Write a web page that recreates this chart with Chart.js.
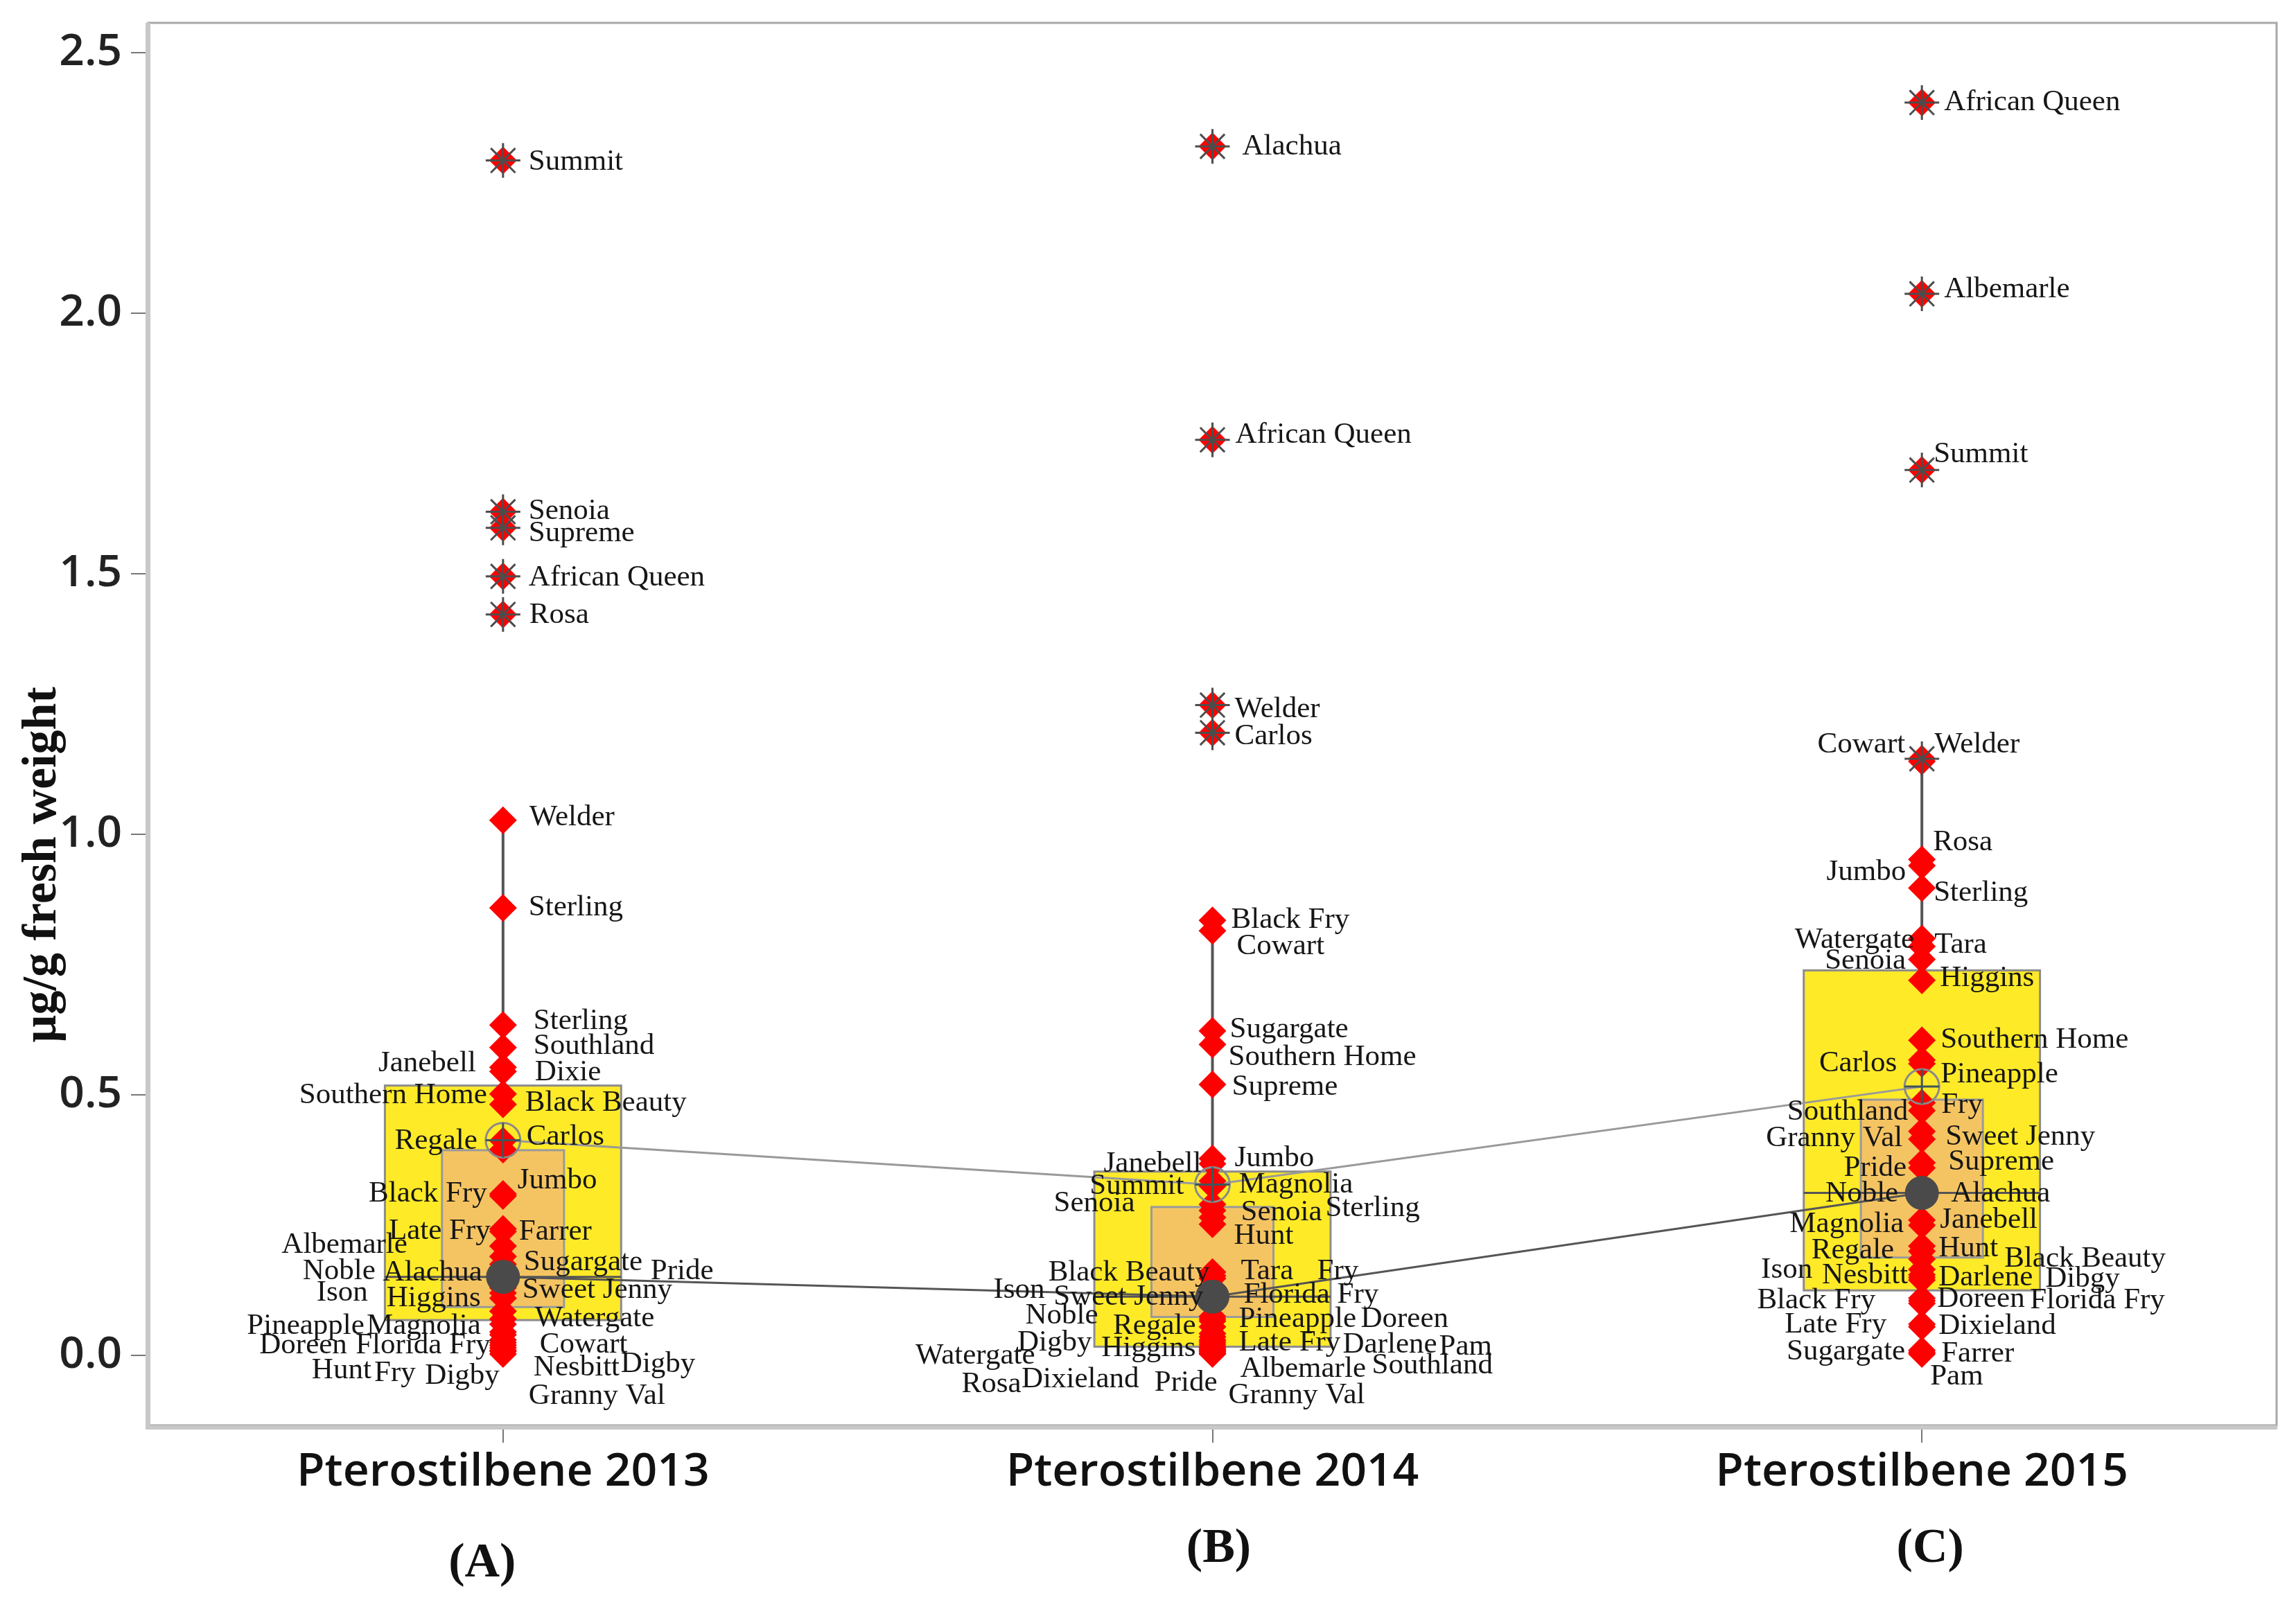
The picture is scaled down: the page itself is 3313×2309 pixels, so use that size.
<!DOCTYPE html>
<html>
<head>
<meta charset="utf-8">
<script src="https://cdn.jsdelivr.net/npm/chart.js@4"></script>
<style>
html,body{margin:0;padding:0;background:#ffffff;}
#wrap{width:3313px;height:2309px;position:relative;}
canvas{display:block;}
</style>
</head>
<body>
<div id="wrap"><canvas id="c" width="3313" height="2309"></canvas></div>
<script>
// ---------------- DATA ----------------
const categories = ['Pterostilbene 2013', 'Pterostilbene 2014', 'Pterostilbene 2015'];
const panelLetters = ['(A)', '(B)', '(C)'];
const yTicks = [0, 0.5, 1.0, 1.5, 2.0, 2.5];
const yTitle = 'µg/g fresh weight';

const names2013 = ['Summit','Senoia','Supreme','African Queen','Rosa','Welder','Sterling','Sterling','Southland','Janebell','Dixie','Southern Home','Black Beauty','Carlos','Regale','Jumbo','Black Fry','Late Fry','Farrer','Albemarle','Sugargate','Pride','Noble','Alachua','Sweet Jenny','Ison','Higgins','Watergate','Pineapple','Magnolia','Doreen','Florida Fry','Cowart','Nesbitt','Digby','Hunt','Fry','Digby','Granny Val'];
const values2013 = [2.293,1.619,1.588,1.495,1.422,1.027,0.859,0.634,0.591,0.553,0.545,0.502,0.482,0.412,0.395,0.306,0.310,0.243,0.238,0.210,0.190,0.175,0.165,0.160,0.130,0.120,0.110,0.085,0.070,0.060,0.045,0.040,0.030,0.025,0.020,0.015,0.010,0.008,0.003];

const names2014 = ['Alachua','African Queen','Welder','Carlos','Black Fry','Cowart','Sugargate','Southern Home','Supreme','Jumbo','Janebell','Summit','Magnolia','Senoia','Senoia','Sterling','Hunt','Black Beauty','Tara','Fry','Ison','Sweet Jenny','Florida Fry','Noble','Pineapple','Doreen','Regale','Digby','Higgins','Late Fry','Darlene','Pam','Watergate','Albemarle','Southland','Rosa','Dixieland','Pride','Granny Val'];
const values2014 = [2.320,1.757,1.248,1.195,0.835,0.815,0.623,0.597,0.520,0.378,0.368,0.335,0.325,0.290,0.278,0.265,0.252,0.160,0.153,0.148,0.125,0.118,0.112,0.075,0.070,0.066,0.055,0.042,0.036,0.030,0.026,0.022,0.018,0.015,0.012,0.010,0.008,0.005,0.003];

const names2015 = ['African Queen','Albemarle','Summit','Cowart','Welder','Rosa','Jumbo','Sterling','Watergate','Tara','Senoia','Higgins','Southern Home','Carlos','Pineapple','Fry','Southland','Sweet Jenny','Granny Val','Supreme','Pride','Noble','Alachua','Janebell','Magnolia','Hunt','Regale','Black Beauty','Ison','Nesbitt','Darlene','Dibgy','Doreen','Florida Fry','Black Fry','Late Fry','Dixieland','Sugargate','Farrer','Pam'];
const values2015 = [2.404,2.037,1.699,1.145,1.140,0.952,0.940,0.897,0.800,0.785,0.760,0.720,0.605,0.567,0.560,0.485,0.470,0.430,0.415,0.370,0.360,0.315,0.305,0.260,0.250,0.210,0.200,0.185,0.165,0.155,0.150,0.145,0.110,0.105,0.100,0.060,0.055,0.010,0.006,0.003];

// box-plot statistics (one entry per year)
const q1Values      = [0.068, 0.017, 0.125];
const q3Values      = [0.518, 0.353, 0.739];
const medianValues  = [0.151, 0.113, 0.312];
const meanValues    = [0.413, 0.328, 0.516];
const ciLowValues   = [0.093, 0.074, 0.188];
const ciHighValues  = [0.394, 0.285, 0.491];
const whiskerHigh   = [1.027, 0.835, 1.142];
const whiskerLow    = [0.003, 0.003, 0.003];

// ---------------- LABEL LAYOUT (side, x offset in px, label anchor on y axis) ----------------
const layout2013 = [['R',37,2.290],['R',37,1.620],['R',37,1.578],['R',37,1.492],['R',38,1.420],['R',38,1.032],['R',37,0.859],['R',44,0.642],['R',44,0.594],['L',-39,0.560],['R',46,0.543],['L',-23,0.499],['R',32,0.484],['R',34,0.420],['L',-37,0.412],['R',21,0.336],['L',-23,0.311],['L',-18,0.239],['R',23,0.237],['L',-138,0.212],['R',30,0.179],['R',213,0.162],['L',-184,0.162],['L',-30,0.159],['R',28,0.126],['L',-195,0.121],['L',-32,0.110],['R',46,0.071],['L',-200,0.057],['L',-32,0.057],['L',-225,0.019],['L',-18,0.019],['R',53,0.021],['R',44,-0.023],['R',170,-0.017],['L',-190,-0.028],['L',-126,-0.034],['L',-5,-0.039],['R',37,-0.078]];
const layout2014 = [['R',43,2.320],['R',33,1.766],['R',32,1.240],['R',32,1.188],['R',27,0.835],['R',35,0.785],['R',25,0.626],['R',23,0.573],['R',28,0.515],['R',32,0.378],['L',-16,0.368],['L',-41,0.325],['R',38,0.328],['L',-112,0.292],['R',41,0.275],['R',163,0.282],['R',31,0.229],['L',-4,0.159],['R',41,0.161],['R',151,0.161],['L',-242,0.126],['L',-13,0.113],['R',45,0.117],['L',-165,0.077],['R',38,0.070],['R',214,0.070],['L',-24,0.057],['L',-174,0.024],['L',-24,0.014],['R',38,0.024],['R',188,0.021],['R',327,0.017],['L',-256,0.000],['R',40,-0.026],['R',230,-0.019],['L',-276,-0.055],['L',-106,-0.046],['L',7,-0.052],['R',23,-0.076]];
const layout2015 = [['R',32,2.404],['R',32,2.045],['R',17,1.729],['L',-24,1.172],['R',18,1.172],['R',16,0.984],['L',-23,0.927],['R',17,0.887],['L',-11,0.797],['R',18,0.788],['L',-23,0.757],['R',26,0.724],['R',27,0.605],['L',-36,0.561],['R',27,0.539],['R',28,0.481],['L',-20,0.467],['R',34,0.420],['L',-28,0.417],['R',38,0.371],['L',-22,0.360],['L',-34,0.310],['R',42,0.310],['R',26,0.260],['L',-26,0.252],['R',24,0.205],['L',-40,0.202],['R',119,0.186],['L',-158,0.164],['L',-20,0.153],['R',24,0.150],['R',178,0.147],['R',22,0.108],['R',156,0.106],['L',-67,0.106],['L',-51,0.059],['R',24,0.056],['L',-24,0.007],['R',28,0.004],['R',12,-0.040]];

const years = [
  {names: names2013, values: values2013, layout: layout2013},
  {names: names2014, values: values2014, layout: layout2014},
  {names: names2015, values: values2015, layout: layout2015}
];

// ---------------- STYLE ----------------
const STYLE = {
  boxWidth: 0.333, ciWidth: 0.172,
  boxFill: '#FFEA28', boxEdge: '#8c8c8c',
  ciFill: '#F5C462', ciEdge: '#9a9a9a',
  whisker: '#555555',
  labelFont: '43px "Liberation Serif", "Times New Roman", serif',
  labelColor: '#161616',
  letterDx: [-30, 9, 12], letterY: [2257, 2236, 2236],
  titleX: 62, titleY: 1248
};

// ---------------- DATASETS ----------------
const allPoints = [], outlierPoints = [];
years.forEach((yr, i) => {
  yr.values.forEach(v => {
    allPoints.push({x: i + 1, y: v});
    if (v > whiskerHigh[i]) outlierPoints.push({x: i + 1, y: v});
  });
});
const meanPts = meanValues.map((v, i) => ({x: i + 1, y: v}));
const medianPts = medianValues.map((v, i) => ({x: i + 1, y: v}));

const boxPlugin = {
  id: 'boxes',
  beforeDatasetsDraw(chart) {
    const {ctx, scales: {x, y}} = chart;
    ctx.save();
    for (let i = 0; i < 3; i++) {
      const cx = x.getPixelForValue(i + 1);
      const hb = x.getPixelForValue(i + 1 + STYLE.boxWidth / 2) - cx;
      const hc = x.getPixelForValue(i + 1 + STYLE.ciWidth / 2) - cx;
      // whiskers
      ctx.strokeStyle = STYLE.whisker; ctx.lineWidth = 4;
      ctx.beginPath();
      ctx.moveTo(cx, y.getPixelForValue(q3Values[i])); ctx.lineTo(cx, y.getPixelForValue(whiskerHigh[i]));
      ctx.moveTo(cx, y.getPixelForValue(q1Values[i])); ctx.lineTo(cx, y.getPixelForValue(whiskerLow[i]));
      ctx.stroke();
      // IQR box
      const yt = y.getPixelForValue(q3Values[i]), yb = y.getPixelForValue(q1Values[i]);
      ctx.fillStyle = STYLE.boxFill; ctx.fillRect(cx - hb, yt, 2 * hb, yb - yt);
      ctx.strokeStyle = STYLE.boxEdge; ctx.lineWidth = 3; ctx.strokeRect(cx - hb, yt, 2 * hb, yb - yt);
      // median CI box
      const ct = y.getPixelForValue(ciHighValues[i]), cb = y.getPixelForValue(ciLowValues[i]);
      ctx.fillStyle = STYLE.ciFill; ctx.fillRect(cx - hc, ct, 2 * hc, cb - ct);
      ctx.strokeStyle = STYLE.ciEdge; ctx.lineWidth = 3; ctx.strokeRect(cx - hc, ct, 2 * hc, cb - ct);
      // median line
      const ym = y.getPixelForValue(medianValues[i]);
      ctx.strokeStyle = '#555555'; ctx.lineWidth = 3;
      ctx.beginPath(); ctx.moveTo(cx - hb, ym); ctx.lineTo(cx + hb, ym); ctx.stroke();
    }
    ctx.restore();
  },
  afterDatasetsDraw(chart) {
    const {ctx, scales: {x, y}} = chart;
    ctx.save();
    ctx.font = STYLE.labelFont;
    ctx.fillStyle = STYLE.labelColor;
    ctx.textBaseline = 'middle';
    years.forEach((yr, i) => {
      const cx = x.getPixelForValue(i + 1);
      yr.names.forEach((nm, j) => {
        const [side, dx, at] = yr.layout[j];
        ctx.textAlign = side === 'R' ? 'left' : 'right';
        ctx.fillText(nm, cx + dx, y.getPixelForValue(at));
      });
    });
    ctx.restore();
  },
  afterDraw(chart) {
    const {ctx, chartArea: a, scales: {x}} = chart;
    ctx.save();
    // frame
    ctx.strokeStyle = '#a8a8a8'; ctx.lineWidth = 3;
    ctx.strokeRect(a.left, a.top, a.right - a.left, a.bottom - a.top);
    ctx.fillStyle = '#c8c8c8';
    ctx.fillRect(a.left - 4, a.top, 7, a.bottom - a.top + 6);
    ctx.fillRect(a.left - 4, a.bottom, a.right - a.left + 5, 6);
    // y title
    ctx.translate(STYLE.titleX, STYLE.titleY);
    ctx.rotate(-Math.PI / 2);
    ctx.font = 'bold 70px "Liberation Serif", "Times New Roman", serif';
    ctx.fillStyle = '#111111';
    ctx.textAlign = 'center'; ctx.textBaseline = 'middle';
    ctx.fillText(yTitle, 0, 0);
    ctx.restore();
    // panel letters
    ctx.save();
    ctx.font = 'bold 70px "Liberation Serif", "Times New Roman", serif';
    ctx.fillStyle = '#111111';
    ctx.textAlign = 'center'; ctx.textBaseline = 'middle';
    panelLetters.forEach((t, i) => {
      ctx.fillText(t, x.getPixelForValue(i + 1) + STYLE.letterDx[i], STYLE.letterY[i]);
    });
    ctx.restore();
  }
};

const tickFont = {family: '"Open Sans", "DejaVu Sans", sans-serif', weight: '600', size: 66};

new Chart(document.getElementById('c'), {
  type: 'scatter',
  data: {
    datasets: [
      {label: 'median', data: medianPts, order: 0, pointStyle: 'circle', pointRadius: 24, backgroundColor: '#4a4a4a', borderColor: '#4a4a4a', borderWidth: 1},
      {label: 'meanCross', data: meanPts, order: 1, pointStyle: 'cross', pointRadius: 25, borderColor: '#3f5559', borderWidth: 3},
      {label: 'meanCircle', data: meanPts, order: 2, pointStyle: 'circle', pointRadius: 25, backgroundColor: 'rgba(0,0,0,0)', borderColor: '#8a8a8a', borderWidth: 3},
      {label: 'outliers', data: outlierPoints, order: 3, pointStyle: 'star', pointRadius: 25, borderColor: '#4d4d4d', borderWidth: 3},
      {label: 'cultivars', data: allPoints, order: 4, pointStyle: 'rectRot', pointRadius: 20, backgroundColor: '#ff0000', borderColor: '#ff0000', borderWidth: 0},
      {label: 'medianLine', data: medianPts, order: 5, showLine: true, pointRadius: 0, borderColor: '#555555', borderWidth: 3},
      {label: 'meanLine', data: meanPts, order: 6, showLine: true, pointRadius: 0, borderColor: '#999999', borderWidth: 3}
    ]
  },
  options: {
    responsive: false, animation: false, devicePixelRatio: 1,
    layout: {padding: {left: 0, right: 23, top: 33, bottom: 0}},
    plugins: {legend: {display: false}, tooltip: {enabled: false}},
    scales: {
      x: {
        type: 'linear', min: 0.5, max: 3.5,
        afterBuildTicks: s => { s.ticks = [1, 2, 3].map(v => ({value: v})); },
        afterFit: s => { s.height = 252; },
        ticks: {callback: v => categories[Math.round(v) - 1], font: tickFont, color: '#111111', padding: 4, maxRotation: 0, autoSkip: false},
        grid: {drawOnChartArea: false, drawTicks: true, tickLength: 25, color: '#777777', lineWidth: 2},
        border: {display: false}
      },
      y: {
        type: 'linear', min: -0.134, max: 2.557,
        afterBuildTicks: s => { s.ticks = yTicks.map(v => ({value: v})); },
        afterFit: s => { s.width = 214; s.paddingTop = 0; s.paddingBottom = 0; },
        ticks: {callback: v => Number(v).toFixed(1), font: {family: '"Open Sans", "DejaVu Sans", sans-serif', weight: '600', size: 64, lineHeight: 0.9}, color: '#222222', padding: 13},
        grid: {drawOnChartArea: false, drawTicks: true, tickLength: 25, color: '#777777', lineWidth: 2},
        border: {display: false}
      }
    }
  },
  plugins: [boxPlugin]
});
</script>
</body>
</html>
